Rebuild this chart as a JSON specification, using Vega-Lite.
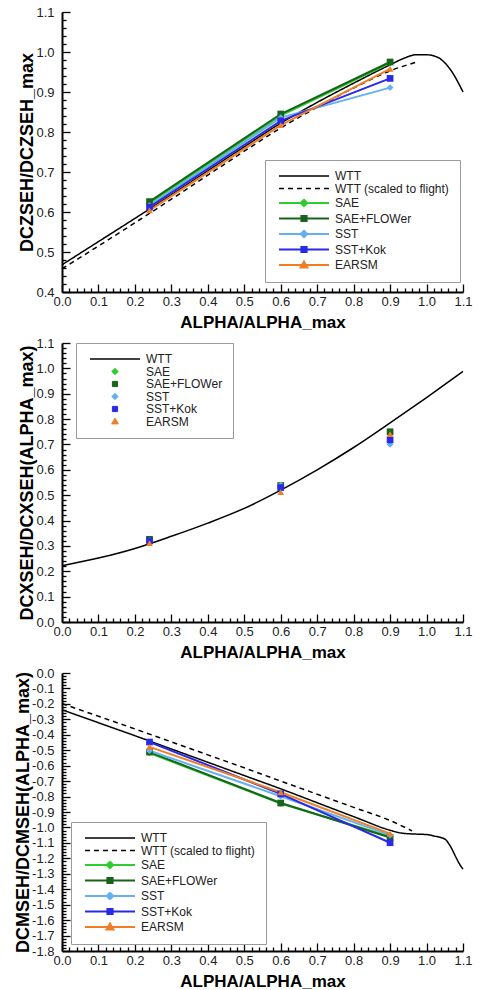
{
  "$schema": "https://vega.github.io/schema/vega-lite/v6.json",
  "padding": {"left": 14, "top": 6, "right": 2, "bottom": 0},
  "bounds": "flush",
  "spacing": 51,
  "config": {
    "view": {"stroke": null},
    "font": "Liberation Sans",
    "axis": {
      "grid": false,
      "tickCount": 1000,
      "domainColor": "#000000",
      "domainWidth": 2,
      "tickColor": "#000000",
      "tickWidth": 1.3,
      "labelFont": "Liberation Sans",
      "labelColor": "#222222",
      "labelOverlap": false,
      "labelFlush": false,
      "titleFont": "Liberation Sans",
      "titleFontWeight": "bold",
      "titleColor": "#000000"
    },
    "axisX": {"labelFontSize": 13, "labelPadding": 11, "titlePadding": 2, "titleFontSize": 17},
    "axisY": {"labelFontSize": 13, "labelPadding": 16, "titlePadding": -1, "titleFontSize": 18},
    "legend": {
      "title": null,
      "orient": "none",
      "padding": 10,
      "rowPadding": 0.5,
      "labelOffset": 48,
      "labelFont": "Liberation Sans",
      "labelFontSize": 12,
      "labelColor": "#222222",
      "fillColor": "#ffffff",
      "strokeColor": "#9a9a9a",
      "symbolSize": 16
    }
  },
  "datasets": {
    "cz_ref": [
      {"alpha": 0, "ratio": 0.468, "series": "WTT"},
      {"alpha": 0.1, "ratio": 0.526, "series": "WTT"},
      {"alpha": 0.2, "ratio": 0.584, "series": "WTT"},
      {"alpha": 0.3, "ratio": 0.643, "series": "WTT"},
      {"alpha": 0.4, "ratio": 0.703, "series": "WTT"},
      {"alpha": 0.5, "ratio": 0.763, "series": "WTT"},
      {"alpha": 0.6, "ratio": 0.822, "series": "WTT"},
      {"alpha": 0.7, "ratio": 0.874, "series": "WTT"},
      {"alpha": 0.8, "ratio": 0.922, "series": "WTT"},
      {"alpha": 0.9, "ratio": 0.968, "series": "WTT"},
      {"alpha": 0.94, "ratio": 0.985, "series": "WTT"},
      {"alpha": 0.97, "ratio": 0.993, "series": "WTT"},
      {"alpha": 1.0, "ratio": 0.993, "series": "WTT"},
      {"alpha": 1.03, "ratio": 0.987, "series": "WTT"},
      {"alpha": 1.05, "ratio": 0.973, "series": "WTT"},
      {"alpha": 1.07, "ratio": 0.95, "series": "WTT"},
      {"alpha": 1.09, "ratio": 0.918, "series": "WTT"},
      {"alpha": 1.1, "ratio": 0.9, "series": "WTT"},
      {"alpha": 0, "ratio": 0.458, "series": "WTT (scaled to flight)"},
      {"alpha": 0.1, "ratio": 0.515, "series": "WTT (scaled to flight)"},
      {"alpha": 0.2, "ratio": 0.573, "series": "WTT (scaled to flight)"},
      {"alpha": 0.3, "ratio": 0.632, "series": "WTT (scaled to flight)"},
      {"alpha": 0.4, "ratio": 0.692, "series": "WTT (scaled to flight)"},
      {"alpha": 0.5, "ratio": 0.752, "series": "WTT (scaled to flight)"},
      {"alpha": 0.6, "ratio": 0.81, "series": "WTT (scaled to flight)"},
      {"alpha": 0.7, "ratio": 0.862, "series": "WTT (scaled to flight)"},
      {"alpha": 0.8, "ratio": 0.91, "series": "WTT (scaled to flight)"},
      {"alpha": 0.9, "ratio": 0.953, "series": "WTT (scaled to flight)"},
      {"alpha": 0.97, "ratio": 0.974, "series": "WTT (scaled to flight)"}
    ],
    "cz_cfd": [
      {"alpha": 0.24, "ratio": 0.622, "series": "SAE"},
      {"alpha": 0.6, "ratio": 0.841, "series": "SAE"},
      {"alpha": 0.9, "ratio": 0.972, "series": "SAE"},
      {"alpha": 0.24, "ratio": 0.626, "series": "SAE+FLOWer"},
      {"alpha": 0.6, "ratio": 0.845, "series": "SAE+FLOWer"},
      {"alpha": 0.9, "ratio": 0.975, "series": "SAE+FLOWer"},
      {"alpha": 0.24, "ratio": 0.616, "series": "SST"},
      {"alpha": 0.6, "ratio": 0.836, "series": "SST"},
      {"alpha": 0.9, "ratio": 0.911, "series": "SST"},
      {"alpha": 0.24, "ratio": 0.612, "series": "SST+Kok"},
      {"alpha": 0.6, "ratio": 0.828, "series": "SST+Kok"},
      {"alpha": 0.9, "ratio": 0.934, "series": "SST+Kok"},
      {"alpha": 0.24, "ratio": 0.604, "series": "EARSM"},
      {"alpha": 0.6, "ratio": 0.817, "series": "EARSM"},
      {"alpha": 0.9, "ratio": 0.958, "series": "EARSM"}
    ],
    "cx_ref": [
      {"alpha": 0, "ratio": 0.222, "series": "WTT"},
      {"alpha": 0.1, "ratio": 0.252, "series": "WTT"},
      {"alpha": 0.2, "ratio": 0.29, "series": "WTT"},
      {"alpha": 0.3, "ratio": 0.338, "series": "WTT"},
      {"alpha": 0.4, "ratio": 0.39, "series": "WTT"},
      {"alpha": 0.5, "ratio": 0.448, "series": "WTT"},
      {"alpha": 0.6, "ratio": 0.52, "series": "WTT"},
      {"alpha": 0.7, "ratio": 0.6, "series": "WTT"},
      {"alpha": 0.8, "ratio": 0.688, "series": "WTT"},
      {"alpha": 0.9, "ratio": 0.785, "series": "WTT"},
      {"alpha": 1.0, "ratio": 0.885, "series": "WTT"},
      {"alpha": 1.1, "ratio": 0.988, "series": "WTT"}
    ],
    "cx_cfd": [
      {"alpha": 0.24, "ratio": 0.322, "series": "SAE"},
      {"alpha": 0.6, "ratio": 0.536, "series": "SAE"},
      {"alpha": 0.9, "ratio": 0.746, "series": "SAE"},
      {"alpha": 0.24, "ratio": 0.326, "series": "SAE+FLOWer"},
      {"alpha": 0.6, "ratio": 0.538, "series": "SAE+FLOWer"},
      {"alpha": 0.9, "ratio": 0.75, "series": "SAE+FLOWer"},
      {"alpha": 0.24, "ratio": 0.322, "series": "SST"},
      {"alpha": 0.6, "ratio": 0.54, "series": "SST"},
      {"alpha": 0.9, "ratio": 0.7, "series": "SST"},
      {"alpha": 0.24, "ratio": 0.32, "series": "SST+Kok"},
      {"alpha": 0.6, "ratio": 0.53, "series": "SST+Kok"},
      {"alpha": 0.9, "ratio": 0.718, "series": "SST+Kok"},
      {"alpha": 0.24, "ratio": 0.311, "series": "EARSM"},
      {"alpha": 0.6, "ratio": 0.512, "series": "EARSM"},
      {"alpha": 0.9, "ratio": 0.741, "series": "EARSM"}
    ],
    "cm_ref": [
      {"alpha": 0, "ratio": -0.238, "series": "WTT"},
      {"alpha": 0.1, "ratio": -0.322, "series": "WTT"},
      {"alpha": 0.2, "ratio": -0.406, "series": "WTT"},
      {"alpha": 0.3, "ratio": -0.492, "series": "WTT"},
      {"alpha": 0.4, "ratio": -0.578, "series": "WTT"},
      {"alpha": 0.5, "ratio": -0.664, "series": "WTT"},
      {"alpha": 0.6, "ratio": -0.75, "series": "WTT"},
      {"alpha": 0.7, "ratio": -0.84, "series": "WTT"},
      {"alpha": 0.8, "ratio": -0.93, "series": "WTT"},
      {"alpha": 0.9, "ratio": -1.018, "series": "WTT"},
      {"alpha": 0.93, "ratio": -1.036, "series": "WTT"},
      {"alpha": 0.96, "ratio": -1.042, "series": "WTT"},
      {"alpha": 1.0, "ratio": -1.046, "series": "WTT"},
      {"alpha": 1.02, "ratio": -1.055, "series": "WTT"},
      {"alpha": 1.05, "ratio": -1.075, "series": "WTT"},
      {"alpha": 1.065, "ratio": -1.12, "series": "WTT"},
      {"alpha": 1.08, "ratio": -1.19, "series": "WTT"},
      {"alpha": 1.09, "ratio": -1.235, "series": "WTT"},
      {"alpha": 1.1, "ratio": -1.27, "series": "WTT"},
      {"alpha": 0, "ratio": -0.198, "series": "WTT (scaled to flight)"},
      {"alpha": 0.1, "ratio": -0.28, "series": "WTT (scaled to flight)"},
      {"alpha": 0.2, "ratio": -0.362, "series": "WTT (scaled to flight)"},
      {"alpha": 0.3, "ratio": -0.446, "series": "WTT (scaled to flight)"},
      {"alpha": 0.4, "ratio": -0.53, "series": "WTT (scaled to flight)"},
      {"alpha": 0.5, "ratio": -0.614, "series": "WTT (scaled to flight)"},
      {"alpha": 0.6, "ratio": -0.7, "series": "WTT (scaled to flight)"},
      {"alpha": 0.7, "ratio": -0.785, "series": "WTT (scaled to flight)"},
      {"alpha": 0.8, "ratio": -0.87, "series": "WTT (scaled to flight)"},
      {"alpha": 0.9, "ratio": -0.955, "series": "WTT (scaled to flight)"},
      {"alpha": 0.96, "ratio": -1.022, "series": "WTT (scaled to flight)"}
    ],
    "cm_cfd": [
      {"alpha": 0.24, "ratio": -0.518, "series": "SAE"},
      {"alpha": 0.6, "ratio": -0.845, "series": "SAE"},
      {"alpha": 0.9, "ratio": -1.058, "series": "SAE"},
      {"alpha": 0.24, "ratio": -0.512, "series": "SAE+FLOWer"},
      {"alpha": 0.6, "ratio": -0.842, "series": "SAE+FLOWer"},
      {"alpha": 0.9, "ratio": -1.065, "series": "SAE+FLOWer"},
      {"alpha": 0.24, "ratio": -0.503, "series": "SST"},
      {"alpha": 0.6, "ratio": -0.798, "series": "SST"},
      {"alpha": 0.9, "ratio": -1.05, "series": "SST"},
      {"alpha": 0.24, "ratio": -0.447, "series": "SST+Kok"},
      {"alpha": 0.6, "ratio": -0.783, "series": "SST+Kok"},
      {"alpha": 0.9, "ratio": -1.099, "series": "SST+Kok"},
      {"alpha": 0.24, "ratio": -0.478, "series": "EARSM"},
      {"alpha": 0.6, "ratio": -0.772, "series": "EARSM"},
      {"alpha": 0.9, "ratio": -1.04, "series": "EARSM"}
    ]
  },
  "resolve": {
    "scale": {"color": "independent", "shape": "independent", "strokeDash": "independent"},
    "legend": {"color": "independent"}
  },
  "vconcat": [
    {
      "width": 401,
      "height": 280,
      "layer": [
        {
          "data": {"name": "cz_ref"},
          "mark": {"type": "line", "strokeWidth": 1.5, "interpolate": "monotone"},
          "encoding": {
            "x": {"field": "alpha", "type": "quantitative",
              "scale": {"domain": [0, 1.1], "nice": false, "zero": false},
              "axis": {"title": "ALPHA/ALPHA_max", "tickCount": 1000,
                "values": [0,0.02,0.04,0.06,0.08,0.1,0.12,0.14,0.16,0.18,0.2,0.22,0.24,0.26,0.28,0.3,0.32,0.34,0.36,0.38,0.4,0.42,0.44,0.46,0.48,0.5,0.52,0.54,0.56,0.58,0.6,0.62,0.64,0.66,0.68,0.7,0.72,0.74,0.76,0.78,0.8,0.82,0.84,0.86,0.88,0.9,0.92,0.94,0.96,0.98,1,1.02,1.04,1.06,1.08,1.1],
                "tickSize": {"condition": {"test": "abs(datum.value*10-round(datum.value*10))<0.001", "value": -8}, "value": -4},
                "labelExpr": "abs(datum.value*10-round(datum.value*10))<0.001 ? format(datum.value,'.1f') : ''"}},
            "y": {"field": "ratio", "type": "quantitative",
              "scale": {"domain": [0.4, 1.1], "nice": false, "zero": false},
              "axis": {"title": "DCZSEH/DCZSEH_max", "tickCount": 1000,
                "values": [0.4,0.42,0.44,0.46,0.48,0.5,0.52,0.54,0.56,0.58,0.6,0.62,0.64,0.66,0.68,0.7,0.72,0.74,0.76,0.78,0.8,0.82,0.84,0.86,0.88,0.9,0.92,0.94,0.96,0.98,1,1.02,1.04,1.06,1.08,1.1],
                "tickSize": {"condition": {"test": "abs(datum.value*10-round(datum.value*10))<0.001", "value": -8}, "value": -4},
                "labelExpr": "abs(datum.value*10-round(datum.value*10))<0.001 ? format(datum.value,'.1f') : ''"}},
            "color": {"field": "series", "type": "nominal",
              "scale": {"domain": ["WTT", "WTT (scaled to flight)", "SAE", "SAE+FLOWer", "SST", "SST+Kok", "EARSM"],
                "range": ["#000000", "#000000", "#2ecc2e", "#17641a", "#66b0f0", "#2a2ae6", "#f07e26"]},
              "legend": {"legendX": 203, "legendY": 148,
                "encode": {"symbols": {"update": {
                  "shape": {"signal": "datum.value==='WTT'||datum.value==='WTT (scaled to flight)'?'M-1,0H24':(datum.value==='SAE'||datum.value==='SST')?'M-1,0H24M11.5,-1.6L13.1,0L11.5,1.6L9.9,0Z':datum.value==='EARSM'?'M-1,0H24M11.5,-1.7L13.2,1.2L9.8,1.2Z':'M-1,0H24M10.2,-1.3H12.8V1.3H10.2Z'"},
                  "stroke": {"signal": "datum.value==='SAE'?'#2ecc2e':datum.value==='SAE+FLOWer'?'#17641a':datum.value==='SST'?'#66b0f0':datum.value==='SST+Kok'?'#2a2ae6':datum.value==='EARSM'?'#f07e26':'#000000'"},
                  "fill": {"signal": "datum.value==='SAE'?'#2ecc2e':datum.value==='SAE+FLOWer'?'#17641a':datum.value==='SST'?'#66b0f0':datum.value==='SST+Kok'?'#2a2ae6':datum.value==='EARSM'?'#f07e26':'#000000'"},
                  "strokeDash": {"signal": "datum.value==='WTT (scaled to flight)'?[5,4]:[1,0]"},
                  "strokeWidth": {"signal": "datum.value==='WTT'||datum.value==='WTT (scaled to flight)'?1.5:2"},
                  "opacity": {"value": 1}
                }}}}},
            "strokeDash": {"field": "series", "type": "nominal",
              "scale": {"domain": ["WTT", "WTT (scaled to flight)"], "range": [[1, 0], [5, 4]]},
              "legend": null}
          }
        },
        {
          "data": {"name": "cz_cfd"},
          "mark": {"type": "line", "strokeWidth": 2},
          "encoding": {
            "x": {"field": "alpha", "type": "quantitative"},
            "y": {"field": "ratio", "type": "quantitative"},
            "color": {"field": "series", "type": "nominal"}
          }
        },
        {
          "data": {"name": "cz_cfd"},
          "mark": {"type": "point", "filled": true, "opacity": 1, "size": 45},
          "encoding": {
            "x": {"field": "alpha", "type": "quantitative"},
            "y": {"field": "ratio", "type": "quantitative"},
            "color": {"field": "series", "type": "nominal"},
            "shape": {"field": "series", "type": "nominal",
              "scale": {"domain": ["SAE", "SAE+FLOWer", "SST", "SST+Kok", "EARSM"],
                "range": ["diamond", "square", "diamond", "square", "triangle-up"]},
              "legend": null}
          }
        }
      ]
    },
    {
      "width": 401,
      "height": 279,
      "layer": [
        {
          "data": {"name": "cx_ref"},
          "mark": {"type": "line", "strokeWidth": 1.5, "interpolate": "monotone"},
          "encoding": {
            "x": {"field": "alpha", "type": "quantitative",
              "scale": {"domain": [0, 1.1], "nice": false, "zero": false},
              "axis": {"title": "ALPHA/ALPHA_max", "tickCount": 1000,
                "values": [0,0.02,0.04,0.06,0.08,0.1,0.12,0.14,0.16,0.18,0.2,0.22,0.24,0.26,0.28,0.3,0.32,0.34,0.36,0.38,0.4,0.42,0.44,0.46,0.48,0.5,0.52,0.54,0.56,0.58,0.6,0.62,0.64,0.66,0.68,0.7,0.72,0.74,0.76,0.78,0.8,0.82,0.84,0.86,0.88,0.9,0.92,0.94,0.96,0.98,1,1.02,1.04,1.06,1.08,1.1],
                "tickSize": {"condition": {"test": "abs(datum.value*10-round(datum.value*10))<0.001", "value": -8}, "value": -4},
                "labelExpr": "abs(datum.value*10-round(datum.value*10))<0.001 ? format(datum.value,'.1f') : ''"}},
            "y": {"field": "ratio", "type": "quantitative",
              "scale": {"domain": [0, 1.1], "nice": false, "zero": false},
              "axis": {"title": "DCXSEH/DCXSEH(ALPHA_max)", "tickCount": 1000,
                "values": [0,0.02,0.04,0.06,0.08,0.1,0.12,0.14,0.16,0.18,0.2,0.22,0.24,0.26,0.28,0.3,0.32,0.34,0.36,0.38,0.4,0.42,0.44,0.46,0.48,0.5,0.52,0.54,0.56,0.58,0.6,0.62,0.64,0.66,0.68,0.7,0.72,0.74,0.76,0.78,0.8,0.82,0.84,0.86,0.88,0.9,0.92,0.94,0.96,0.98,1,1.02,1.04,1.06,1.08,1.1],
                "tickSize": {"condition": {"test": "abs(datum.value*10-round(datum.value*10))<0.001", "value": -8}, "value": -4},
                "labelExpr": "abs(datum.value*10-round(datum.value*10))<0.001 ? format(datum.value,'.1f') : ''"}},
            "color": {"field": "series", "type": "nominal",
              "scale": {"domain": ["WTT", "SAE", "SAE+FLOWer", "SST", "SST+Kok", "EARSM"],
                "range": ["#000000", "#2ecc2e", "#17641a", "#66b0f0", "#2a2ae6", "#f07e26"]},
              "legend": {"legendX": 14, "legendY": 0,
                "encode": {"symbols": {"update": {
                  "shape": {"signal": "datum.value==='WTT'?'M-1,0H24':(datum.value==='SAE'||datum.value==='SST')?'M11.5,-1.6L13.1,0L11.5,1.6L9.9,0Z':datum.value==='EARSM'?'M11.5,-1.7L13.2,1.2L9.8,1.2Z':'M10.2,-1.3H12.8V1.3H10.2Z'"},
                  "stroke": {"signal": "datum.value==='SAE'?'#2ecc2e':datum.value==='SAE+FLOWer'?'#17641a':datum.value==='SST'?'#66b0f0':datum.value==='SST+Kok'?'#2a2ae6':datum.value==='EARSM'?'#f07e26':'#000000'"},
                  "fill": {"signal": "datum.value==='SAE'?'#2ecc2e':datum.value==='SAE+FLOWer'?'#17641a':datum.value==='SST'?'#66b0f0':datum.value==='SST+Kok'?'#2a2ae6':datum.value==='EARSM'?'#f07e26':'#000000'"},
                  "strokeWidth": {"signal": "datum.value==='WTT'?1.5:1"},
                  "opacity": {"value": 1}
                }}}}}
          }
        },
        {
          "data": {"name": "cx_cfd"},
          "mark": {"type": "point", "filled": true, "opacity": 1, "size": 45},
          "encoding": {
            "x": {"field": "alpha", "type": "quantitative"},
            "y": {"field": "ratio", "type": "quantitative"},
            "color": {"field": "series", "type": "nominal"},
            "shape": {"field": "series", "type": "nominal",
              "scale": {"domain": ["SAE", "SAE+FLOWer", "SST", "SST+Kok", "EARSM"],
                "range": ["diamond", "square", "diamond", "square", "triangle-up"]},
              "legend": null}
          }
        }
      ]
    },
    {
      "width": 401,
      "height": 278,
      "layer": [
        {
          "data": {"name": "cm_ref"},
          "mark": {"type": "line", "strokeWidth": 1.5, "interpolate": "monotone"},
          "encoding": {
            "x": {"field": "alpha", "type": "quantitative",
              "scale": {"domain": [0, 1.1], "nice": false, "zero": false},
              "axis": {"title": "ALPHA/ALPHA_max", "tickCount": 1000,
                "values": [0,0.02,0.04,0.06,0.08,0.1,0.12,0.14,0.16,0.18,0.2,0.22,0.24,0.26,0.28,0.3,0.32,0.34,0.36,0.38,0.4,0.42,0.44,0.46,0.48,0.5,0.52,0.54,0.56,0.58,0.6,0.62,0.64,0.66,0.68,0.7,0.72,0.74,0.76,0.78,0.8,0.82,0.84,0.86,0.88,0.9,0.92,0.94,0.96,0.98,1,1.02,1.04,1.06,1.08,1.1],
                "tickSize": {"condition": {"test": "abs(datum.value*10-round(datum.value*10))<0.001", "value": -8}, "value": -4},
                "labelExpr": "abs(datum.value*10-round(datum.value*10))<0.001 ? format(datum.value,'.1f') : ''"}},
            "y": {"field": "ratio", "type": "quantitative",
              "scale": {"domain": [-1.8, 0], "nice": false, "zero": false},
              "axis": {"title": "DCMSEH/DCMSEH(ALPHA_max)", "tickCount": 1000,
                "values": [-1.8,-1.78,-1.76,-1.74,-1.72,-1.7,-1.68,-1.66,-1.64,-1.62,-1.6,-1.58,-1.56,-1.54,-1.52,-1.5,-1.48,-1.46,-1.44,-1.42,-1.4,-1.38,-1.36,-1.34,-1.32,-1.3,-1.28,-1.26,-1.24,-1.22,-1.2,-1.18,-1.16,-1.14,-1.12,-1.1,-1.08,-1.06,-1.04,-1.02,-1,-0.98,-0.96,-0.94,-0.92,-0.9,-0.88,-0.86,-0.84,-0.82,-0.8,-0.78,-0.76,-0.74,-0.72,-0.7,-0.68,-0.66,-0.64,-0.62,-0.6,-0.58,-0.56,-0.54,-0.52,-0.5,-0.48,-0.46,-0.44,-0.42,-0.4,-0.38,-0.36,-0.34,-0.32,-0.3,-0.28,-0.26,-0.24,-0.22,-0.2,-0.18,-0.16,-0.14,-0.12,-0.1,-0.08,-0.06,-0.04,-0.02,0],
                "tickSize": {"condition": {"test": "abs(datum.value*10-round(datum.value*10))<0.001", "value": -8}, "value": -4},
                "labelExpr": "abs(datum.value*10-round(datum.value*10))<0.001 ? replace(format(datum.value,'.1f'),'\u2212','-') : ''"}},
            "color": {"field": "series", "type": "nominal",
              "scale": {"domain": ["WTT", "WTT (scaled to flight)", "SAE", "SAE+FLOWer", "SST", "SST+Kok", "EARSM"],
                "range": ["#000000", "#000000", "#2ecc2e", "#17641a", "#66b0f0", "#2a2ae6", "#f07e26"]},
              "legend": {"legendX": 9, "legendY": 149,
                "encode": {"symbols": {"update": {
                  "shape": {"signal": "datum.value==='WTT'||datum.value==='WTT (scaled to flight)'?'M-1,0H24':(datum.value==='SAE'||datum.value==='SST')?'M-1,0H24M11.5,-1.6L13.1,0L11.5,1.6L9.9,0Z':datum.value==='EARSM'?'M-1,0H24M11.5,-1.7L13.2,1.2L9.8,1.2Z':'M-1,0H24M10.2,-1.3H12.8V1.3H10.2Z'"},
                  "stroke": {"signal": "datum.value==='SAE'?'#2ecc2e':datum.value==='SAE+FLOWer'?'#17641a':datum.value==='SST'?'#66b0f0':datum.value==='SST+Kok'?'#2a2ae6':datum.value==='EARSM'?'#f07e26':'#000000'"},
                  "fill": {"signal": "datum.value==='SAE'?'#2ecc2e':datum.value==='SAE+FLOWer'?'#17641a':datum.value==='SST'?'#66b0f0':datum.value==='SST+Kok'?'#2a2ae6':datum.value==='EARSM'?'#f07e26':'#000000'"},
                  "strokeDash": {"signal": "datum.value==='WTT (scaled to flight)'?[5,4]:[1,0]"},
                  "strokeWidth": {"signal": "datum.value==='WTT'||datum.value==='WTT (scaled to flight)'?1.5:2"},
                  "opacity": {"value": 1}
                }}}}},
            "strokeDash": {"field": "series", "type": "nominal",
              "scale": {"domain": ["WTT", "WTT (scaled to flight)"], "range": [[1, 0], [5, 4]]},
              "legend": null}
          }
        },
        {
          "data": {"name": "cm_cfd"},
          "mark": {"type": "line", "strokeWidth": 2},
          "encoding": {
            "x": {"field": "alpha", "type": "quantitative"},
            "y": {"field": "ratio", "type": "quantitative"},
            "color": {"field": "series", "type": "nominal"}
          }
        },
        {
          "data": {"name": "cm_cfd"},
          "mark": {"type": "point", "filled": true, "opacity": 1, "size": 45},
          "encoding": {
            "x": {"field": "alpha", "type": "quantitative"},
            "y": {"field": "ratio", "type": "quantitative"},
            "color": {"field": "series", "type": "nominal"},
            "shape": {"field": "series", "type": "nominal",
              "scale": {"domain": ["SAE", "SAE+FLOWer", "SST", "SST+Kok", "EARSM"],
                "range": ["diamond", "square", "diamond", "square", "triangle-up"]},
              "legend": null}
          }
        }
      ]
    }
  ]
}
